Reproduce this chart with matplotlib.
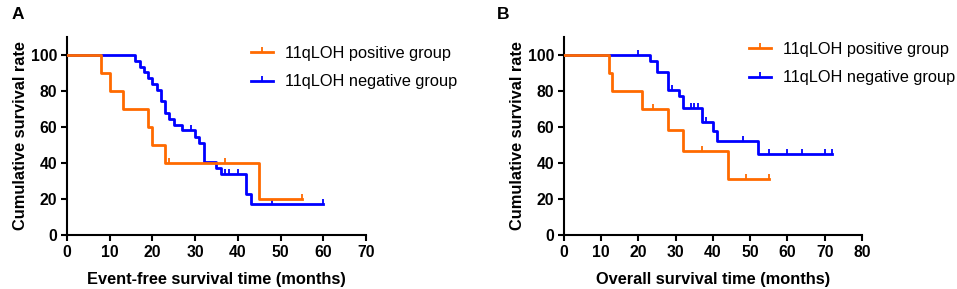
import matplotlib as mpl
mpl.use('Agg')
import matplotlib.pyplot as plt
from matplotlib.lines import Line2D

plt.rcParams['font.family'] = ['Liberation Sans', 'DejaVu Sans']

# Panel A: event-free survival
a_pos_t = [0, 8, 10, 13, 19, 20, 23, 45, 55]
a_pos_s = [100, 90, 80, 70, 60, 50, 40, 20, 20]
a_pos_cens_t = [24, 37, 55]
a_pos_cens_s = [40, 40, 20]

a_neg_t = [0, 16, 17, 18, 19, 20, 21, 22, 23, 24, 25, 27, 30, 31, 32, 35, 36, 42, 43, 60]
a_neg_s = [100, 96.8, 93.5, 90.3, 87.1, 83.9, 80.6, 74.2, 67.7, 64.5, 61.3, 58.1,
           54.5, 51.0, 40.8, 37.4, 34.0, 22.7, 17.0, 17.0]
a_neg_cens_t = [29, 37, 38, 40, 48, 60]
a_neg_cens_s = [58.1, 34.0, 34.0, 34.0, 17.0, 17.0]

# Panel B: overall survival
b_pos_t = [0, 12, 13, 21, 28, 32, 44, 55]
b_pos_s = [100, 90, 80, 70, 58.3, 46.7, 31.1, 31.1]
b_pos_cens_t = [24, 37, 49, 55]
b_pos_cens_s = [70, 46.7, 31.1, 31.1]

b_neg_t = [0, 23, 25, 28, 31, 32, 37, 40, 41, 52, 72]
b_neg_s = [100, 96.7, 90.3, 80.6, 77.0, 70.5, 62.9, 58.0, 52.2, 44.8, 44.8]
b_neg_cens_t = [20, 29, 34, 35, 36, 38, 48, 55, 60, 64, 70, 72]
b_neg_cens_s = [100, 80.6, 70.5, 70.5, 70.5, 62.9, 52.2, 44.8, 44.8, 44.8, 44.8, 44.8]

pos_label = '11qLOH positive group'
neg_label = '11qLOH negative group'
orange = '#FF6A00'
blue = '#0000FF'

fig = plt.figure(figsize=(9.57, 2.89), dpi=100)
ax_a = fig.add_axes([0.070, 0.187, 0.3124, 0.685])
ax_b = fig.add_axes([0.5893, 0.187, 0.3114, 0.685])


def km_panel(ax, pos, neg, xmax, xlabel, legend_anchor):
    for (t, s, ct, cs), color in [(neg, blue), (pos, orange)]:
        ax.step(t, s, where='post', color=color, lw=2, zorder=3)
        ax.plot(ct, cs, ls='none', marker=2, ms=3.5, mew=1.3, color=color, zorder=3)
    ax.set_xlim(0, xmax)
    ax.set_ylim(0, 110)
    ax.set_xticks(range(0, xmax + 1, 10))
    ax.set_yticks(range(0, 101, 20))
    for side in ['top', 'right']:
        ax.spines[side].set_visible(False)
    for side in ['left', 'bottom']:
        ax.spines[side].set_linewidth(1.5)
    ax.tick_params(direction='out', length=4, width=1.5, labelsize=11.3, pad=3)
    for lab in ax.get_xticklabels() + ax.get_yticklabels():
        lab.set_fontweight('bold')
    ax.set_xlabel(xlabel, fontsize=11.8, fontweight='bold', labelpad=9)
    ax.set_ylabel('Cumulative survival rate', fontsize=11.8, fontweight='bold', labelpad=2)
    handles = [Line2D([], [], color=orange, lw=2, marker=2, ms=3.5, mew=1.3),
               Line2D([], [], color=blue, lw=2, marker=2, ms=3.5, mew=1.3)]
    ax.legend(handles, [pos_label, neg_label], loc='upper left', bbox_to_anchor=legend_anchor,
              frameon=False, fontsize=11.8, handlelength=1.3, handletextpad=0.75,
              labelspacing=0.85, numpoints=1, borderaxespad=0)


km_panel(ax_a, (a_pos_t, a_pos_s, a_pos_cens_t, a_pos_cens_s),
         (a_neg_t, a_neg_s, a_neg_cens_t, a_neg_cens_s),
         70, 'Event-free survival time (months)', (0.595, 0.99))
km_panel(ax_b, (b_pos_t, b_pos_s, b_pos_cens_t, b_pos_cens_s),
         (b_neg_t, b_neg_s, b_neg_cens_t, b_neg_cens_s),
         80, 'Overall survival time (months)', (0.60, 1.01))

fig.text(0.012, 0.95, 'A', fontsize=12.5, fontweight='bold', va='center')
fig.text(0.519, 0.95, 'B', fontsize=12.5, fontweight='bold', va='center')

plt.savefig('out.png', dpi=100)
